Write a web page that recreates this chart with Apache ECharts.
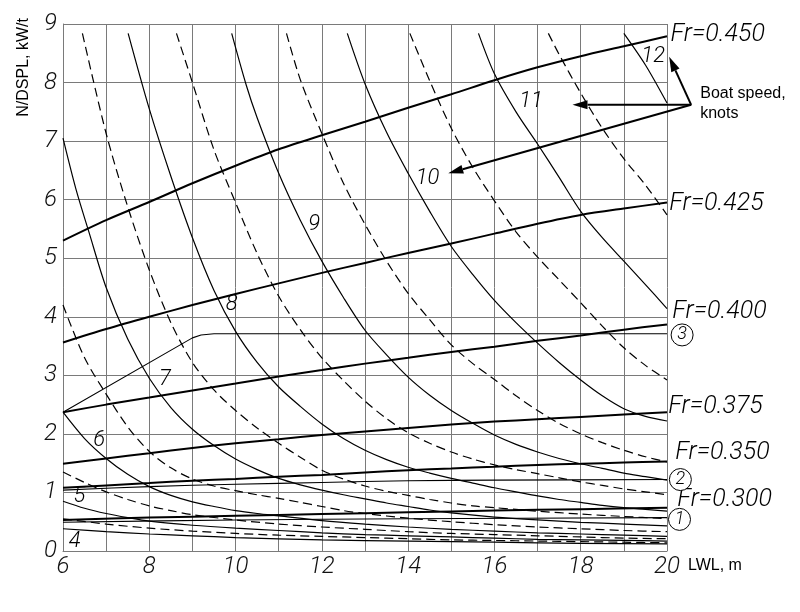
<!DOCTYPE html>
<html><head><meta charset="utf-8">
<script src="https://cdn.jsdelivr.net/npm/echarts@6/dist/echarts.min.js"></script>
<style>html,body{margin:0;padding:0;background:#fff}#c{width:800px;height:612px}</style>
</head><body><div id="c"></div>
<script>
// ---------- data ----------
const xTicks = [6, 8, 10, 12, 14, 16, 18, 20];
const yTicks = [0, 1, 2, 3, 4, 5, 6, 7, 8, 9];
const xName = 'LWL, m';
const yName = 'N/DSPL, kW/t';
const frNames = ['Fr=0.450', 'Fr=0.425', 'Fr=0.400', 'Fr=0.375', 'Fr=0.350', 'Fr=0.300'];
const speedNames = ['12', '11', '10', '9', '8', '7', '6', '5', '4'];
const limitNames = ['3', '2', '1'];
const noteLines = ['Boat speed,', 'knots'];

// Froude-number lines
const fr450 = [[6,5.3],[7,5.65],[8,5.96],[9,6.28],[10,6.58],[11,6.86],[12,7.1],[13,7.33],[14,7.57],[15,7.8],[16,8.04],[17,8.26],[18,8.45],[19,8.62],[20,8.79]];
const fr425 = [[6,3.56],[7,3.79],[8,4.0],[9,4.2],[10,4.39],[11,4.57],[12,4.75],[13,4.92],[14,5.09],[15,5.25],[16,5.42],[17,5.59],[18,5.74],[19,5.85],[20,5.95]];
const fr400 = [[6,2.37],[7,2.5],[8,2.62],[9,2.74],[10,2.86],[11,2.98],[12,3.09],[13,3.2],[14,3.3],[15,3.4],[16,3.49],[17,3.59],[18,3.68],[19,3.78],[20,3.87]];
const fr375 = [[6,1.49],[7,1.58],[8,1.67],[9,1.76],[10,1.84],[11,1.91],[12,1.98],[13,2.04],[14,2.1],[15,2.16],[16,2.21],[17,2.25],[18,2.29],[19,2.33],[20,2.37]];
const fr350 = [[6,1.08],[7,1.12],[8,1.16],[9,1.2],[10,1.23],[11,1.27],[12,1.3],[13,1.34],[14,1.38],[15,1.41],[16,1.44],[17,1.47],[18,1.49],[19,1.51],[20,1.53]];
const fr300 = [[6,0.53],[8,0.57],[10,0.6],[12,0.63],[14,0.66],[16,0.69],[18,0.715],[20,0.74]];

// boat speed curves, knots (solid = whole knots, dashed = half knots)
const v12  = [[19.0,8.84],[19.5,8.3],[20,7.65]];
const v115 = [[17.25,8.84],[17.5,8.48],[18,7.82],[18.5,7.22],[19,6.7],[19.5,6.25],[20,5.74]];
const v11  = [[15.63,8.84],[16,8.15],[16.5,7.5],[17,6.95],[17.5,6.38],[18,5.8],[18.5,5.35],[19,4.95],[19.5,4.55],[20,4.14]];
const v105 = [[14.04,8.84],[14.5,8.03],[15,7.22],[15.5,6.55],[16,5.98],[16.5,5.45],[17,5.02],[17.5,4.63],[18,4.24],[18.5,3.84],[19,3.47],[19.5,3.17],[20,2.92]];
const v10  = [[12.59,8.84],[13,7.98],[13.5,7.15],[14,6.45],[14.5,5.8],[15,5.2],[15.5,4.72],[16,4.28],[16.5,3.9],[17,3.55],[17.5,3.22],[18,2.92],[18.5,2.65],[19,2.43],[19.5,2.3],[20,2.22]];
const v95  = [[11.18,8.84],[11.5,8.05],[12,7.13],[12.5,6.28],[13,5.58],[13.5,4.95],[14,4.4],[14.5,3.95],[15,3.52],[15.5,3.2],[16,2.93],[16.5,2.65],[17,2.4],[17.5,2.18],[18,2.0],[18.5,1.85],[19,1.72],[19.5,1.61],[20,1.52]];
const v9   = [[9.91,8.84],[10.25,7.95],[10.5,7.4],[11,6.45],[11.5,5.65],[12,4.95],[12.5,4.33],[13,3.77],[13.5,3.35],[14,2.97],[14.5,2.66],[15,2.4],[15.5,2.18],[16,1.98],[16.5,1.82],[17,1.69],[17.5,1.58],[18,1.49],[18.5,1.41],[19,1.33],[19.5,1.27],[20,1.21]];
const v85  = [[8.63,8.84],[9,8.0],[9.5,6.85],[10,5.95],[10.5,5.08],[11,4.35],[11.5,3.78],[12,3.3],[12.5,2.91],[13,2.56],[13.5,2.26],[14,2.02],[14.5,1.84],[15,1.69],[15.5,1.57],[16,1.47],[16.5,1.39],[17,1.32],[17.5,1.25],[18,1.18],[18.5,1.12],[19,1.06],[19.5,1.01],[20,0.96]];
const v8   = [[7.51,8.84],[8,7.55],[8.5,6.4],[9,5.35],[9.5,4.45],[10,3.75],[10.5,3.22],[11,2.8],[11.5,2.47],[12,2.17],[12.5,1.92],[13,1.72],[13.5,1.56],[14,1.43],[14.5,1.33],[15,1.24],[15.5,1.16],[16,1.08],[16.5,1.01],[17,0.94],[17.5,0.88],[18,0.83],[18.5,0.78],[19,0.74],[19.5,0.71],[20,0.68]];
const v75  = [[6.45,8.84],[7,7.13],[7.5,5.88],[8,4.8],[8.5,3.9],[9,3.22],[9.5,2.75],[10,2.4],[10.5,2.1],[11,1.84],[11.5,1.6],[12,1.38],[12.5,1.23],[13,1.11],[13.5,1.02],[14,0.95],[14.5,0.88],[15,0.82],[15.5,0.77],[16,0.74],[16.5,0.71],[17,0.68],[18,0.63],[19,0.59],[20,0.55]];
const v7   = [[6,7.05],[6.3,6.18],[6.6,5.45],[7,4.5],[7.5,3.62],[8,2.95],[8.5,2.45],[9,2.08],[9.5,1.8],[10,1.57],[10.5,1.39],[11,1.24],[11.5,1.13],[12,1.04],[12.5,0.96],[13,0.89],[13.5,0.82],[14,0.76],[14.5,0.7],[15,0.65],[16,0.58],[17,0.53],[18,0.49],[19,0.46],[20,0.43]];
const v65  = [[6,4.2],[6.5,3.3],[7,2.68],[7.5,2.12],[8,1.7],[8.5,1.42],[9,1.23],[9.5,1.11],[10,1.03],[10.5,0.96],[11,0.9],[11.5,0.83],[12,0.76],[12.5,0.69],[13,0.64],[14,0.56],[15,0.5],[16,0.45],[17,0.41],[18,0.38],[19,0.35],[20,0.33]];
const v6   = [[6,2.37],[6.5,1.92],[7,1.58],[7.5,1.31],[8,1.1],[8.5,0.95],[9,0.84],[9.5,0.76],[10,0.69],[10.5,0.64],[11,0.6],[12,0.52],[13,0.46],[14,0.41],[15,0.37],[16,0.34],[17,0.31],[18,0.29],[19,0.27],[20,0.25]];
const v55  = [[6,1.35],[6.5,1.17],[7,1.01],[7.5,0.88],[8,0.77],[8.5,0.69],[9,0.62],[10,0.53],[11,0.46],[12,0.41],[13,0.37],[14,0.33],[15,0.3],[16,0.28],[17,0.26],[18,0.24],[19,0.22],[20,0.21]];
const v5   = [[6,0.85],[6.5,0.73],[7,0.64],[7.5,0.57],[8,0.51],[9,0.44],[10,0.39],[11,0.35],[12,0.31],[13,0.28],[14,0.26],[15,0.24],[16,0.22],[17,0.2],[18,0.19],[19,0.18],[20,0.17]];
const v45  = [[6,0.55],[7,0.46],[8,0.39],[9,0.34],[10,0.3],[11,0.27],[12,0.25],[13,0.23],[14,0.21],[15,0.19],[16,0.18],[17,0.17],[18,0.16],[19,0.15],[20,0.14]];
const v4   = [[6,0.38],[7,0.33],[8,0.29],[9,0.26],[10,0.23],[12,0.19],[14,0.17],[16,0.15],[18,0.13],[20,0.12]];

// boundary lines 1, 2, 3
const lim3 = [[6,2.37],[9.0,3.64],[9.2,3.69],[9.5,3.71],[20,3.71]];
const lim2 = [[6,1.04],[8,1.1],[10,1.14],[12,1.17],[14,1.2],[16,1.21],[20,1.22]];
const lim1 = [[6,0.49],[10,0.53],[14,0.55],[20,0.57]];

// ---------- layout of annotations (data coordinates) ----------
const layout = {
  speedLabelAt: [[19.68,8.44],[16.85,7.67],[14.45,6.36],[11.82,5.57],[9.91,4.21],[8.36,2.93],[6.84,1.88],[6.38,0.93],[6.27,0.17]],
  frLabelAt: [[20.08,8.82],[20.05,5.93],[20.12,4.09],[20.03,2.46],[20.19,1.67],[20.24,0.88]],
  limitAt: [[20.35,3.69],[20.31,1.22],[20.29,0.54]],
  arrowFrom: [20.56,7.62],
  arrowTo: [[20.05,8.44],[17.81,7.62],[14.93,6.45]],
  noteAt: [[20.77,7.82],[20.77,7.47]]
};

// ---------- chart ----------
const chart = echarts.init(document.getElementById('c'));
const series = [];
function add(data, width, dashed, smooth) {
  series.push({
    type: 'line', data: data, symbol: 'none', silent: true,
    smooth: smooth, clip: true,
    lineStyle: { color: '#000', width: width, type: dashed ? [9, 5] : 'solid' }
  });
}
[fr450, fr425, fr400, fr375, fr350, fr300].forEach(d => add(d, 2, false, 0.3));
[v12, v11, v10, v9, v8, v7, v6, v5, v4].forEach(d => add(d, 1.2, false, 0.3));
[v115, v105, v95, v85, v75, v65, v55, v45].forEach(d => add(d, 1.2, true, 0.3));
add(lim3, 1.1, false, false);
add(lim2, 1.1, false, 0.3);
add(lim1, 1.1, false, 0.3);

const digitFont = 'Roboto, "DejaVu Sans", sans-serif';
chart.setOption({
  animation: false,
  grid: { left: 63, right: 133, top: 24, bottom: 61 },
  xAxis: {
    type: 'value', min: 6, max: 20, interval: 1,
    axisLine: { lineStyle: { color: '#7a7a7a', width: 1 } },
    axisTick: { show: false },
    splitLine: { show: true, lineStyle: { color: '#7a7a7a', width: 1 } },
    axisLabel: {
      formatter: v => (xTicks.indexOf(v) >= 0 ? String(v) : ''),
      fontFamily: digitFont, fontStyle: 'italic', fontWeight: 300, fontSize: 24, color: '#111', margin: 4
    }
  },
  yAxis: {
    type: 'value', min: 0, max: 9, interval: 1,
    axisLine: { show: true, lineStyle: { color: '#7a7a7a', width: 1 } },
    axisTick: { show: false },
    splitLine: { show: true, lineStyle: { color: '#7a7a7a', width: 1 } },
    axisLabel: {
      formatter: v => (yTicks.indexOf(v) >= 0 ? String(v) : ''),
      fontFamily: digitFont, fontStyle: 'italic', fontWeight: 300, fontSize: 24, color: '#111', margin: 6
    }
  },
  series: series
});

const P = p => chart.convertToPixel({ gridIndex: 0 }, p);
const g = [];
function text(str, p, font, align) {
  g.push({ type: 'text', x: p[0], y: p[1], z: 100,
    style: { text: str, font: font, fill: '#000', align: align || 'center', verticalAlign: 'middle' } });
}
speedNames.forEach((s, i) => text(s, P(layout.speedLabelAt[i]), 'italic 300 22px ' + digitFont));
frNames.forEach((s, i) => text(s, P(layout.frLabelAt[i]), 'italic 300 25px ' + digitFont, 'left'));
limitNames.forEach((s, i) => {
  const c = P(layout.limitAt[i]);
  g.push({ type: 'circle', z: 100, shape: { cx: c[0], cy: c[1], r: 11 }, style: { fill: '#fff', stroke: '#000', lineWidth: 1 } });
  text(s, c, 'italic 300 18px ' + digitFont);
});
noteLines.forEach((s, i) => text(s, P(layout.noteAt[i]), '16px "Liberation Sans", Arial, sans-serif', 'left'));
// arrows
const a0 = P(layout.arrowFrom);
layout.arrowTo.forEach(t => {
  const p1 = P(t);
  const dx = p1[0] - a0[0], dy = p1[1] - a0[1], L = Math.hypot(dx, dy), ux = dx / L, uy = dy / L;
  const hl = 15, hw = 4.5, bx = p1[0] - ux * hl, by = p1[1] - uy * hl;
  g.push({ type: 'line', z: 100, shape: { x1: a0[0], y1: a0[1], x2: bx, y2: by }, style: { stroke: '#000', lineWidth: 2 } });
  g.push({ type: 'polygon', z: 100, shape: { points: [p1, [bx - uy * hw, by + ux * hw], [bx + uy * hw, by - ux * hw]] }, style: { fill: '#000' } });
});
// axis names
const xn = P([20, 0]);
text(xName, [xn[0] + 21, xn[1] + 15], '16px "Liberation Sans", Arial, sans-serif', 'left');
const yn = P([6, 9]);
g.push({ type: 'text', x: yn[0] - 39, y: yn[1] - 6, rotation: Math.PI / 2, z: 100,
  style: { text: yName, font: '16px "Liberation Sans", Arial, sans-serif', fill: '#000', align: 'right', verticalAlign: 'middle' } });
chart.setOption({ graphic: g });
</script></body></html>
